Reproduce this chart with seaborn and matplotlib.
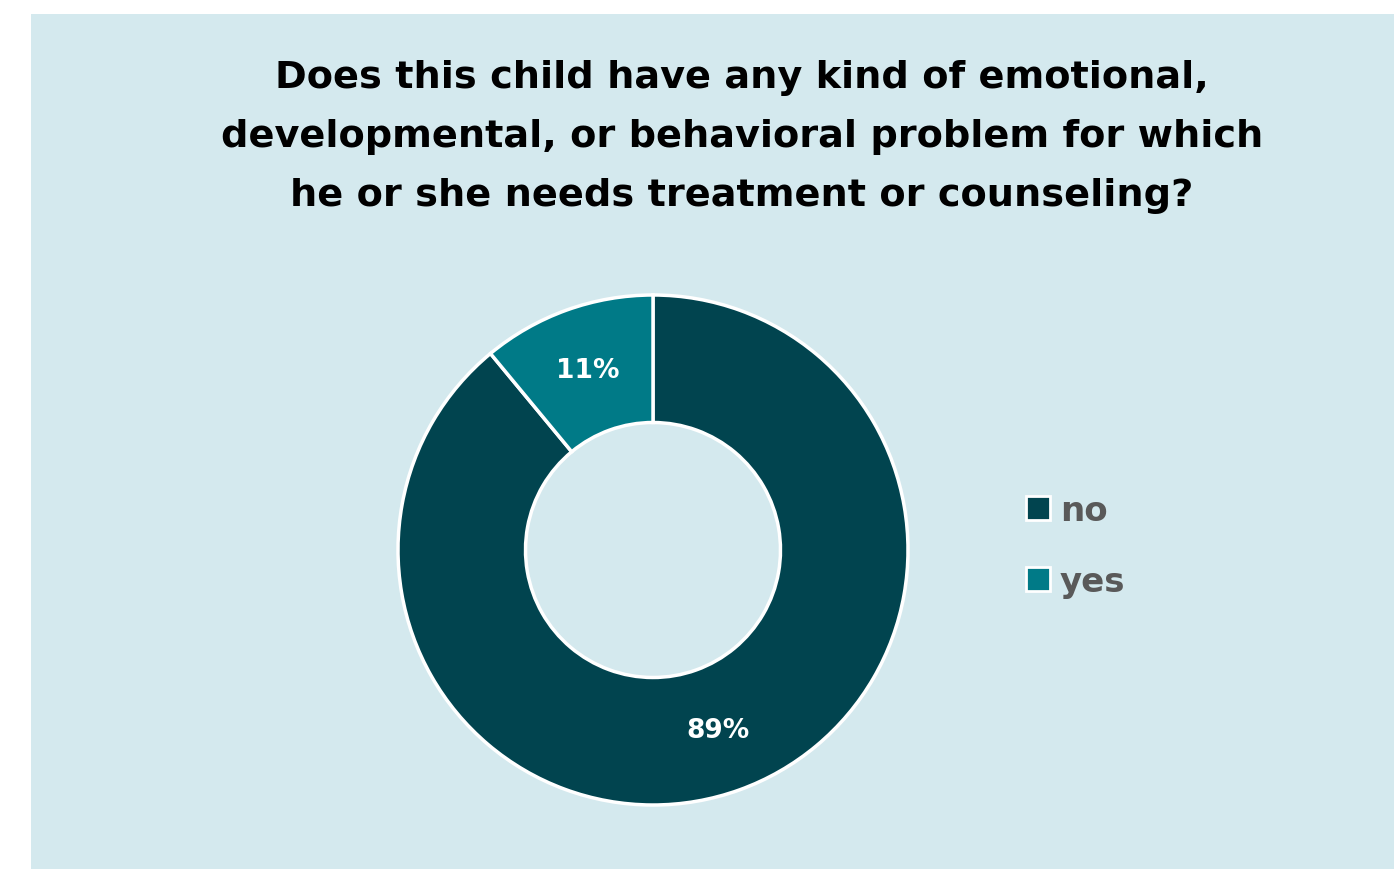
import matplotlib
matplotlib.use("Agg")
import matplotlib.pyplot as plt
import seaborn as sns
from matplotlib.patches import Rectangle
from matplotlib.lines import Line2D

categories = ["no", "yes"]
values = [89, 11]
colors = ["#01444F", "#007A87"]
title_lines = [
    "Does this child have any kind of emotional,",
    "developmental, or behavioral problem for which",
    "he or she needs treatment or counseling?",
]

sns.set_theme(style="white")
plt.rcParams["font.family"] = ["DejaVu Sans"]

W, H = 1394, 870
fig = plt.figure(figsize=(W / 100, H / 100), dpi=100, facecolor="white")
bg = "#D4E9EE"
fig.patches.append(Rectangle((31 / W, 0), 1 - 31 / W, (H - 15) / H,
                             transform=fig.transFigure, facecolor=bg,
                             edgecolor="none", zorder=-5))

cx, cy, R = 653, 551, 255
half = 262
ax = fig.add_axes([(cx - half) / W, (H - cy - half) / H, 2 * half / W, 2 * half / H])
ax.set_zorder(3)
ax.set_facecolor("none")
wedges, texts, autotexts = ax.pie(
    values, colors=colors, startangle=90, counterclock=False,
    autopct=lambda p: f"{p:.0f}%", pctdistance=0.75,
    wedgeprops=dict(width=0.5, edgecolor="white", linewidth=2.5),
    textprops=dict(color="white", fontsize=19, fontweight="bold"),
    radius=1.0,
)
ax.set_xlim(-half / R, half / R)
ax.set_ylim(-half / R, half / R)
ax.set_aspect("equal")
ax.axis("off")

for i, line in enumerate(title_lines):
    fig.text(742 / W, 1 - (78 + 59 * i) / H, line, ha="center", va="center",
             fontsize=27.5, fontweight="bold", color="black")

handles = [Line2D([0], [0], marker="s", linestyle="none", markersize=17,
                  markerfacecolor=c, markeredgecolor="white", markeredgewidth=2)
           for c in colors]
leg = fig.legend(handles, categories, loc="center left",
                 bbox_to_anchor=(990 / W, 1 - 547 / H), frameon=False,
                 prop=dict(size=24.5, weight="bold"), labelspacing=1.12,
                 handletextpad=0.15, handlelength=1.0)
leg.set_zorder(4)
for t in leg.get_texts():
    t.set_color("#595959")

fig.savefig("out.png", dpi=100, facecolor="white")
